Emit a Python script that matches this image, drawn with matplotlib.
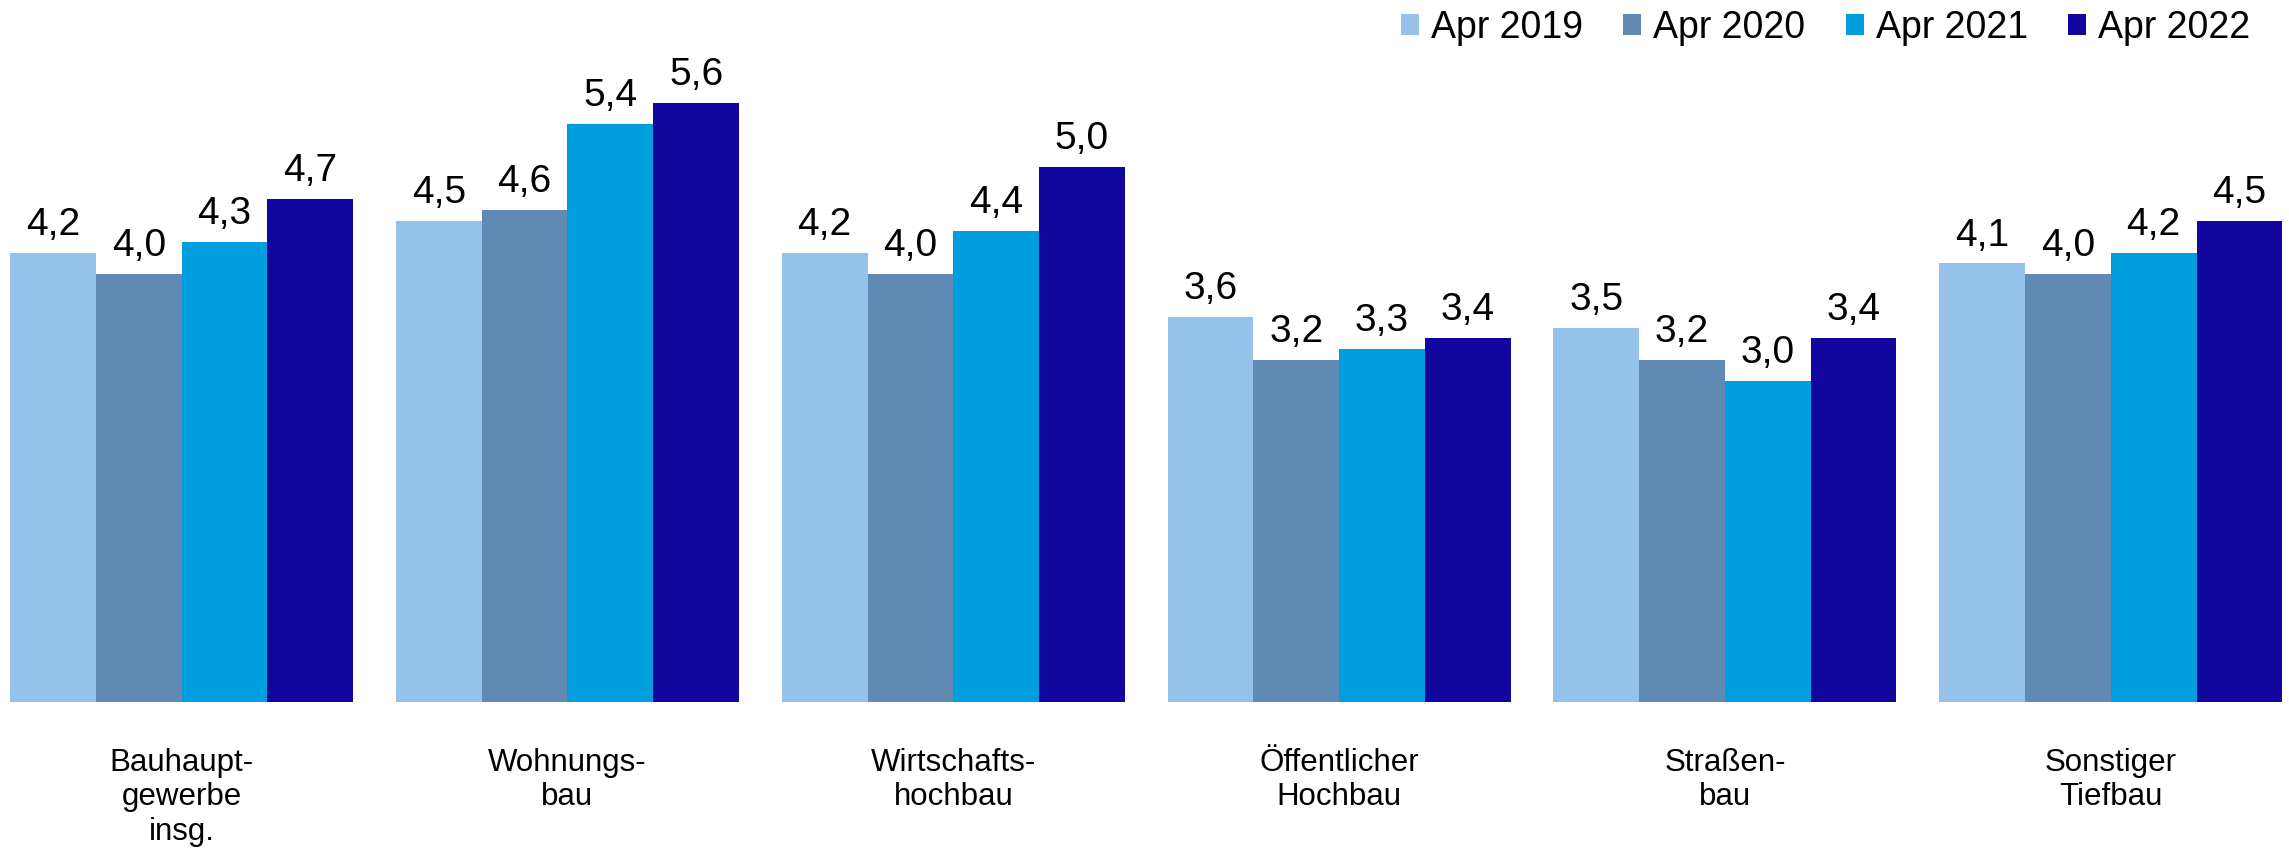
import numpy as np
import matplotlib
matplotlib.use("Agg")
from matplotlib import pyplot as plt

plt.rcParams['font.family'] = ['Liberation Sans', 'DejaVu Sans']

# DATA
categories = ["Bauhaupt-\ngewerbe\ninsg.", "Wohnungs-\nbau", "Wirtschafts-\nhochbau",
              "Öffentlicher\nHochbau", "Straßen-\nbau", "Sonstiger\nTiefbau"]
series_names = ["Apr 2019", "Apr 2020", "Apr 2021", "Apr 2022"]
apr2019 = [4.2, 4.5, 4.2, 3.6, 3.5, 4.1]
apr2020 = [4.0, 4.6, 4.0, 3.2, 3.2, 4.0]
apr2021 = [4.3, 5.4, 4.4, 3.3, 3.0, 4.2]
apr2022 = [4.7, 5.6, 5.0, 3.4, 3.4, 4.5]
colors = ["#95C2EA", "#6089B4", "#009DDF", "#11069E"]

series = [apr2019, apr2020, apr2021, apr2022]

W, H = 2289, 848
fig = plt.figure(figsize=(W / 100, H / 100), dpi=100)
ax = fig.add_axes([10.2 / W, 146 / H, 2272 / W, 702 / H])

x = np.arange(len(categories))
bw = 0.8889 / 4
for k, (vals, name, col) in enumerate(zip(series, series_names, colors)):
    pos = x - 0.4444 + bw * (k + 0.5)
    bars = ax.bar(pos, vals, width=bw, color=col, label=name, linewidth=0)
    for b, v in zip(bars, vals):
        ax.annotate(f"{v:.1f}".replace(".", ","),
                    (b.get_x() + b.get_width() / 2, v),
                    xytext=(0, 7), textcoords="offset points",
                    ha="center", va="bottom", fontsize=28)

ax.set_xlim(-0.4444, len(categories) - 1 + 0.4444)
ax.set_ylim(0, 702 / 107)
ax.set_xticks(x)
ax.set_xticklabels(categories, fontsize=22.5, multialignment="center")
ax.tick_params(axis="x", length=0, pad=33)
ax.set_yticks([])
for s in ax.spines.values():
    s.set_visible(False)

fig.legend(loc="center right", bbox_to_anchor=(2250 / W, 1 - 28 / H), ncol=4,
           frameon=False, fontsize=27, handlelength=0.48, handleheight=0.48,
           handletextpad=0.32, columnspacing=1.07, borderpad=0, borderaxespad=0)

fig.savefig("out.png", dpi=100)
